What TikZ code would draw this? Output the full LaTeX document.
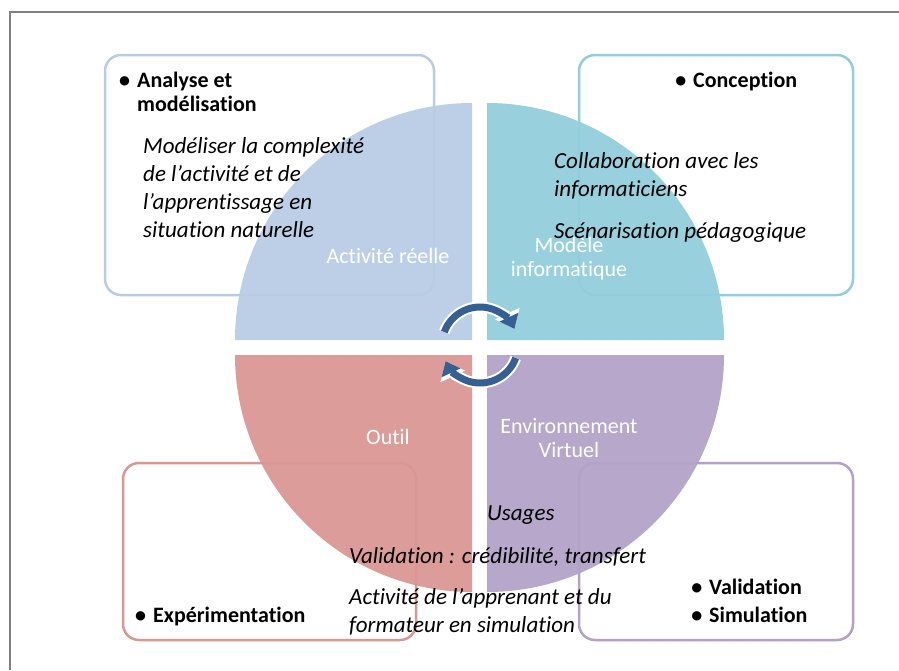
\documentclass[tikz,border=0pt]{standalone}
\usepackage{fontspec}
\setmainfont{Carlito}[Ligatures=CommonOff]
\usetikzlibrary{arrows.meta}

\definecolor{bleuA}{HTML}{B8CCE4}
\definecolor{bleuB}{HTML}{92CDDC}
\definecolor{rougeC}{HTML}{D99694}
\definecolor{violetD}{HTML}{B2A2C7}
\definecolor{fleche}{HTML}{376092}

\begin{document}
\begin{tikzpicture}[x=1pt,y=-1pt,
  cadre/.style={line width=2.5pt, rounded corners=16pt},
  quart/.style={fill opacity=.94},
  titre/.style={anchor=base west, inner sep=0pt, align=left, font=\fontsize{22}{24}\selectfont\bfseries},
  texte/.style={anchor=base west, inner sep=0pt, align=left, font=\fontsize{23}{28}\selectfont\itshape},
  etiquette/.style={anchor=base, inner sep=0pt, align=center, text=white, font=\fontsize{22}{24}\selectfont},
  boucle/.style={line width=7pt, fleche, -{Triangle[width=20pt,length=13pt]}},
  halo/.style={line width=11pt, white, -{Triangle[width=26pt,length=17pt]}}]
\useasboundingbox (0,0) rectangle (899,670);

% Cadre de la diapositive
\draw[gray, line width=2pt] (10,670) -- (10,12) -- (899,12);

% Cadres des quatre etapes
\draw[cadre, bleuA] (105,55) rectangle (434,295);
\draw[cadre, bleuB] (579,55) rectangle (853,295);
\draw[cadre, rougeC] (123,463) rectangle (416,640);
\draw[cadre, violetD] (579,463) rectangle (853,640);

% Les quatre quarts du cercle
\fill[quart, bleuA] (472,340) -- ++(-237,0) arc[start angle=180, end angle=270, radius=237] -- cycle;
\fill[quart, bleuB] (487,340) -- ++(0,-237) arc[start angle=270, end angle=360, radius=237] -- cycle;
\fill[quart, violetD] (487,355) -- ++(237,0) arc[start angle=0, end angle=90, radius=237] -- cycle;
\fill[quart, rougeC] (472,355) -- ++(0,237) arc[start angle=90, end angle=180, radius=237] -- cycle;

% Etiquettes blanches (base = derniere ligne)
\node[etiquette] (reelle) at (388,263) {Activité réelle};
\node[etiquette] (modele) at (569,276) {Modèle\\informatique};
\node[etiquette] (outil) at (388,444) {Outil};
\node[etiquette] (envir) at (569,457) {Environnement\\Virtuel};

% Fleches circulaires au centre
\coordinate (C) at (480,345);
\draw[halo] (C) ++(200:38) arc[start angle=200, end angle=335, radius=38];
\draw[boucle] (C) ++(200:38) arc[start angle=200, end angle=335, radius=38];
\draw[halo] (C) ++(20:38) arc[start angle=20, end angle=155, radius=38];
\draw[boucle] (C) ++(20:38) arc[start angle=20, end angle=155, radius=38];

% Titres a puces
\node[titre] (analyse) at (137,111) {\llap{\textbullet\hspace{7pt}}Analyse et\\modélisation};
\node[titre] (concep) at (693,87) {\llap{\textbullet\hspace{7pt}}Conception};
\node[titre] (experi) at (153,622) {\llap{\textbullet\hspace{7pt}}Expérimentation};
\node[titre, font=\fontsize{22}{28}\selectfont\bfseries] (valid) at (709,622) {\llap{\textbullet\hspace{7pt}}Validation\\\llap{\textbullet\hspace{7pt}}Simulation};

% Textes en italique
\node[texte] (complex) at (143,237) {Modéliser la complexité\\de l’activité et de\\l’apprentissage en\\situation naturelle};
\node[texte] (collab) at (554,196) {Collaboration avec les\\informaticiens};
\node[texte] (scenar) at (554,238) {Scénarisation pédagogique};
\node[texte] (usages) at (487,520) {Usages};
\node[texte] (credib) at (349,563) {Validation : crédibilité, transfert};
\node[texte] (apprenant) at (349,632) {Activité de l’apprenant et du\\formateur en simulation};
\end{tikzpicture}
\end{document}
